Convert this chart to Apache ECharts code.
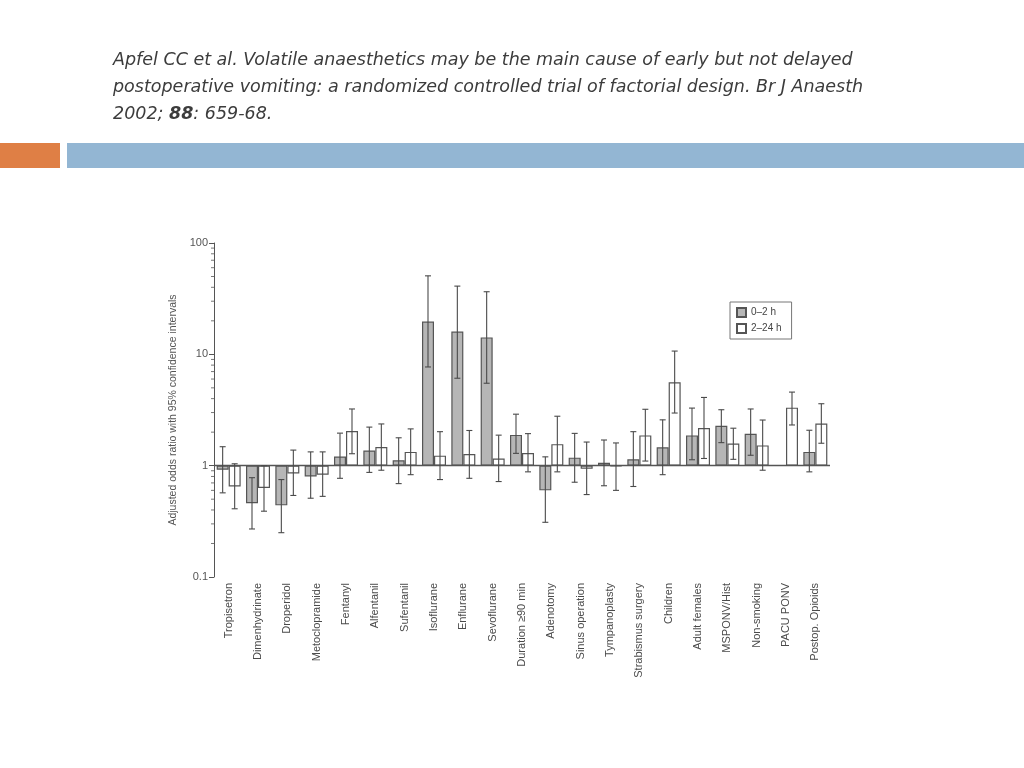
<!DOCTYPE html>
<html>
<head>
<meta charset="utf-8">
<script src="https://cdn.jsdelivr.net/npm/echarts@6/dist/echarts.min.js"></script>
<style>
html,body{margin:0;padding:0;background:#fff;}
#chart{width:1024px;height:768px;}
</style>
</head>
<body>
<div id="chart"></div>
<script>
const categories = ['Tropisetron','Dimenhydrinate','Droperidol','Metoclopramide','Fentanyl','Alfentanil','Sufentanil','Isoflurane','Enflurane','Sevoflurane','Duration \u226590 min','Adenotomy','Sinus operation','Tympanoplasty','Strabismus surgery','Children','Adult females','MSPONV/Hist','Non-smoking','PACU PONV','Postop. Opioids'];
const early     = [0.92, 0.46, 0.44, 0.80, 1.21, 1.37, 1.12, 19.7, 16.0, 14.2, 1.89, 0.60, 1.18, 1.06, 1.14, 1.46, 1.87, 2.28, 1.93, null, 1.33];
const earlyLow  = [0.57, 0.27, 0.25, 0.51, 0.77, 0.87, 0.69, 7.7, 6.1, 5.5, 1.29, 0.31, 0.71, 0.66, 0.65, 0.83, 1.13, 1.61, 1.24, null, 0.88];
const earlyHigh = [1.48, 0.78, 0.75, 1.33, 1.96, 2.22, 1.78, 50.7, 41, 36.5, 2.9, 1.2, 1.95, 1.70, 2.02, 2.58, 3.29, 3.18, 3.23, null, 2.08];
const late      = [0.65, 0.63, 0.85, 0.83, 2.05, 1.47, 1.33, 1.23, 1.27, 1.16, 1.30, 1.56, 0.94, 0.99, 1.87, 5.6, 2.18, 1.58, 1.52, 3.32, 2.39];
const lateLow   = [0.41, 0.39, 0.54, 0.53, 1.28, 0.91, 0.83, 0.75, 0.77, 0.72, 0.88, 0.88, 0.55, 0.60, 1.10, 2.97, 1.16, 1.14, 0.91, 2.32, 1.59];
const lateHigh  = [1.04, 1.00, 1.38, 1.33, 3.23, 2.37, 2.14, 2.02, 2.07, 1.88, 1.94, 2.78, 1.63, 1.60, 3.21, 10.7, 4.1, 2.17, 2.57, 4.58, 3.6];
const seriesNames = ['0\u20132 h', '2\u201324 h'];
const yTickLabels = [0.1, 1, 10, 100];
const minorTickValues = [0.2,0.3,0.4,0.5,0.6,0.7,0.8,0.9,2,3,4,5,6,7,8,9,20,30,40,50,60,70,80,90];
const titleLines = ['Apfel CC et al. Volatile anaesthetics may be the main cause of early but not delayed',
                    'postoperative vomiting: a randomized controlled trial of factorial design. Br J Anaesth',
                    '2002; {b|88}: 659-68.'];

const BAR_W = 12;
const errData = (lo, hi) => lo.map((v, i) => [i, v == null ? '-' : v, hi[i] == null ? '-' : hi[i]]);

function errRender(offset) {
  return function (params, api) {
    const i = api.value(0), lo = api.value(1), hi = api.value(2);
    if (isNaN(lo) || isNaN(hi)) return;
    const pHi = api.coord([i, hi]);
    const pLo = api.coord([i, lo]);
    const x = pHi[0] + offset;
    const cap = 3;
    const st = { stroke: '#4a4a4a', lineWidth: 1.1 };
    return { type: 'group', children: [
      { type: 'line', shape: { x1: x, y1: pHi[1], x2: x, y2: pLo[1] }, style: st },
      { type: 'line', shape: { x1: x - cap, y1: pHi[1], x2: x + cap, y2: pHi[1] }, style: st },
      { type: 'line', shape: { x1: x - cap, y1: pLo[1], x2: x + cap, y2: pLo[1] }, style: st }
    ]};
  };
}

function minorRender(params, api) {
  const v = api.value(1);
  const p = api.coord([0, v]);
  const x0 = p[0] - api.size([1, 0])[0] / 2;
  return { type: 'line', shape: { x1: x0 - 3, y1: p[1], x2: x0, y2: p[1] }, style: { stroke: '#777', lineWidth: 1 } };
}

const chart = echarts.init(document.getElementById('chart'));
chart.setOption({
  animation: false,
  backgroundColor: '#fff',
  graphic: [
    { type: 'rect', shape: { x: 0, y: 143, width: 60, height: 25 }, style: { fill: '#df7f45' } },
    { type: 'rect', shape: { x: 67, y: 143, width: 957, height: 25 }, style: { fill: '#93b6d3' } },
    { type: 'text', left: 113, top: 47, style: {
        text: titleLines.join('\n'),
        font: 'italic 17.5px "DejaVu Sans"', fill: '#3c3c3c', lineHeight: 27,
        rich: { b: { font: 'italic bold 17.5px "DejaVu Sans"', fill: '#3c3c3c', lineHeight: 27 } }
    } }
  ],
  legend: {
    data: seriesNames, orient: 'vertical', left: 730, top: 302,
    borderColor: '#777', borderWidth: 1, padding: [5, 10, 5, 6], itemGap: 5,
    itemWidth: 9, itemHeight: 9, icon: 'rect',
    textStyle: { fontFamily: 'Liberation Sans', fontSize: 10, color: '#444' }
  },
  grid: { left: 214, top: 243, width: 616, height: 334 },
  xAxis: {
    type: 'category', data: categories,
    axisLine: { show: false }, axisTick: { show: false },
    axisLabel: { rotate: 90, interval: 0, margin: 6, fontFamily: 'Liberation Sans', fontSize: 11, color: '#4a4a4a' }
  },
  yAxis: {
    type: 'log', logBase: 10, min: 0.1, max: 100,
    name: 'Adjusted odds ratio with 95% confidence intervals',
    nameLocation: 'middle', nameGap: 25,
    nameTextStyle: { fontFamily: 'Liberation Sans', fontSize: 10.5, color: '#555' },
    axisLine: { show: true, lineStyle: { color: '#555', width: 1 } },
    axisTick: { show: true, length: 5, lineStyle: { color: '#555' } },
    splitLine: { show: false },
    axisLabel: { fontFamily: 'Liberation Sans', fontSize: 11, color: '#555', margin: 6,
      formatter: v => { const t = yTickLabels.find(x => Math.abs(x - v) < 1e-9 * Math.max(1, v)); return t == null ? '' : String(t); } }
  },
  series: [
    { name: seriesNames[0], type: 'bar', data: early.map(v => v == null ? '-' : v), barWidth: BAR_W, barGap: '0%',
      itemStyle: { color: '#b6b6b6', borderColor: '#555', borderWidth: 1.2 },
      markLine: { silent: true, symbol: 'none', label: { show: false },
        lineStyle: { color: '#555', width: 1.3, type: 'solid' }, data: [{ yAxis: 1 }] },
      z: 2 },
    { name: seriesNames[1], type: 'bar', data: late, barWidth: BAR_W, barGap: '0%',
      itemStyle: { color: '#ffffff', borderColor: '#555', borderWidth: 1.2 }, z: 2 },
    { type: 'custom', renderItem: errRender(-BAR_W / 2), data: errData(earlyLow, earlyHigh),
      encode: { x: 0, y: [1, 2] }, z: 5, silent: true },
    { type: 'custom', renderItem: errRender(BAR_W / 2), data: errData(lateLow, lateHigh),
      encode: { x: 0, y: [1, 2] }, z: 5, silent: true },
    { type: 'custom', renderItem: minorRender, data: minorTickValues.map(v => [0, v]),
      encode: { x: 0, y: 1 }, clip: false, z: 5, silent: true }
  ]
});
</script>
</body>
</html>
